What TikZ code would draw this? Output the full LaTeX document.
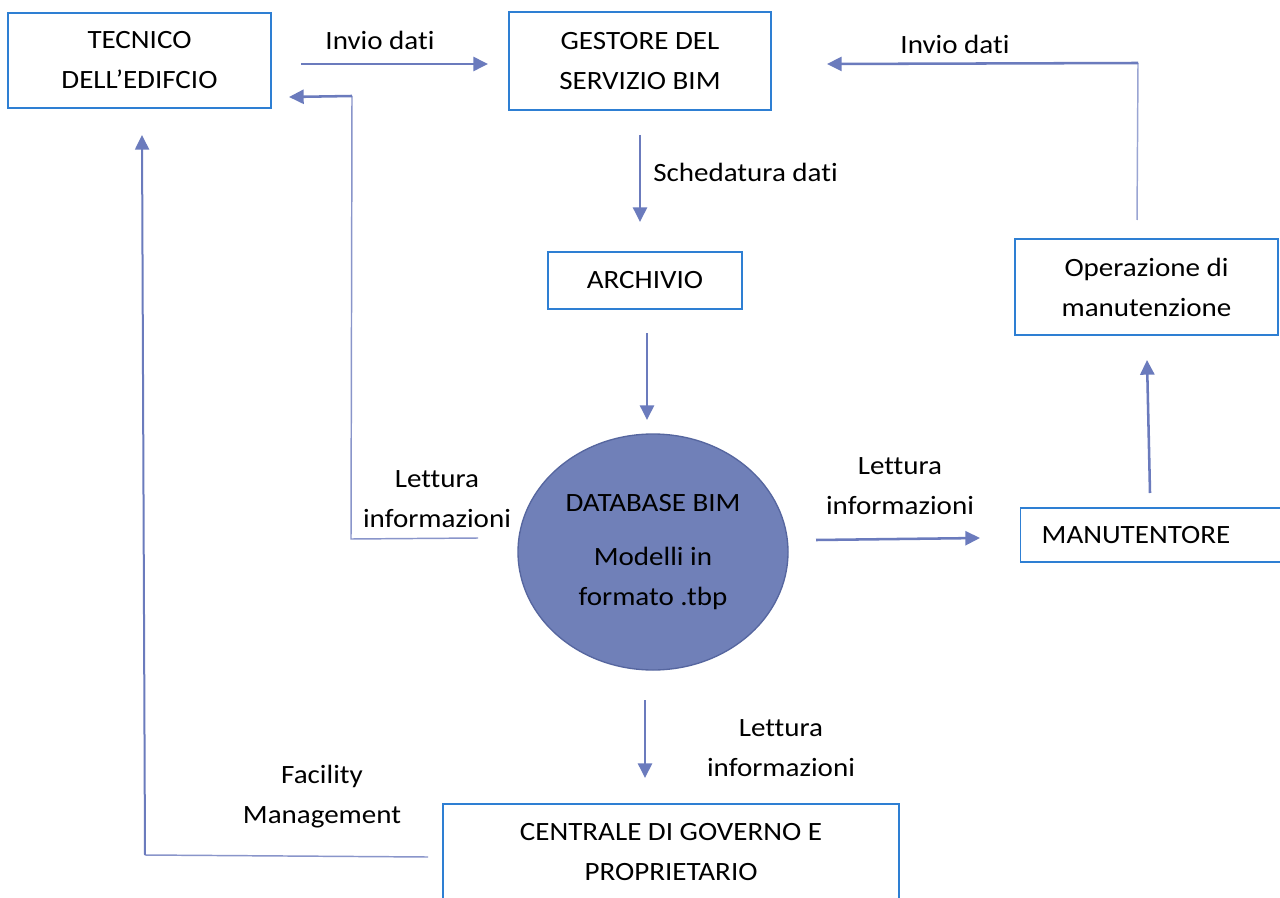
\documentclass[tikz,border=0pt]{standalone}
\usepackage{fontspec}
\setmainfont{Carlito}[FakeStretch=1.1, Ligatures=NoCommon]
\usetikzlibrary{arrows.meta,shapes.geometric}
\definecolor{arrowc}{HTML}{6B7BBD}
\definecolor{thinc}{HTML}{9AA5D3}
\definecolor{boxc}{HTML}{2E7FD3}
\definecolor{dbfill}{HTML}{7080B8}
\definecolor{dbline}{HTML}{56669F}
\begin{document}
\begin{tikzpicture}[x=0.75pt,y=-0.75pt,
  txt/.style={font=\fontsize{19.8}{30}\selectfont, align=center, inner sep=0pt},
  bbox/.style={txt, draw=boxc, line width=1pt, fill=white},
  arr/.style={draw=arrowc, line width=1.9pt, -{Triangle[length=11pt,width=10.5pt]}},
  thin/.style={draw=thinc, line width=1.1pt},
  thinb/.style={draw=arrowc!80, line width=1.1pt}]
\useasboundingbox (0,0) rectangle (1280,898);
\clip (0,0) rectangle (1280,898);
\fill[white] (0,0) rectangle (1280,898);

% boxes
\node[bbox, minimum width=197.25pt, minimum height=71.25pt] (tecnico) at (139.5,60.5) {TECNICO\\DELL’EDIFCIO};
\node[bbox, minimum width=196.5pt, minimum height=73.5pt] (gestore) at (640,61) {GESTORE DEL\\SERVIZIO BIM};
\node[bbox, minimum width=145.5pt, minimum height=42.75pt] (archivio) at (645,280.5) {ARCHIVIO};
\node[bbox, minimum width=197.25pt, minimum height=72pt] (operazione) at (1146.5,287) {Operazione di\\manutenzione};
\node[bbox, anchor=west, align=left, inner xsep=15.75pt, text width=178.5pt, minimum height=40.5pt] (manut) at (1020,535) {MANUTENTORE};
\node[bbox, minimum width=342pt, minimum height=72pt] (centrale) at (671,852) {CENTRALE DI GOVERNO E\\PROPRIETARIO};

% database
\node[txt, ellipse, draw=dbline, line width=1pt, fill=dbfill, minimum width=202.5pt, minimum height=177pt] (db) at (653,552) {DATABASE BIM\\[10.5pt]Modelli in\\formato .tbp};

% labels
\node[txt] (l1) at (380,40) {Invio dati};
\node[txt] (l2) at (955,44) {Invio dati};
\node[txt, anchor=west] (l3) at (653,172) {Schedatura dati};
\node[txt] (l4) at (437,499) {Lettura\\informazioni};
\node[txt] (l5) at (900,486) {Lettura\\informazioni};
\node[txt] (l6) at (781,748) {Lettura\\informazioni};
\node[txt] (l7) at (322,797) {Facility\\Management};

% connector end points
\coordinate (a1s) at (301,64);   \coordinate (a1e) at (488,64);
\coordinate (b1) at (478,538);   \coordinate (b2) at (351,539);
\coordinate (b3) at (352,96);    \coordinate (b4) at (289,97);
\coordinate (c1) at (1137,220);  \coordinate (c2) at (1138,63);
\coordinate (c3) at (827,64);
\coordinate (d1) at (640,135);   \coordinate (d2) at (640,222);
\coordinate (e1) at (647,333);   \coordinate (e2) at (647,420);
\coordinate (f1) at (816,540);   \coordinate (f2) at (980,538);
\coordinate (g1) at (1150,493);  \coordinate (g2) at (1147,360);
\coordinate (h1) at (645,700);   \coordinate (h2) at (645,778);
\coordinate (k1) at (428,857);   \coordinate (k2) at (145,855);
\coordinate (k3) at (142,135);

% connectors
\draw[arr] (a1s) -- (a1e);
\draw[thinb] (b1) -- (b2) -- (b3);
\draw[arr] (b3) -- (b4);
\draw[thin] (c1) -- (c2);
\draw[arr] (c2) -- (c3);
\draw[arr] (d1) -- (d2);
\draw[arr] (e1) -- (e2);
\draw[arr] (f1) -- (f2);
\draw[arr] (g1) -- (g2);
\draw[arr] (h1) -- (h2);
\draw[thinb] (k1) -- (k2);
\draw[arr, line width=1.5pt] (k2) -- (k3);
\end{tikzpicture}
\end{document}
